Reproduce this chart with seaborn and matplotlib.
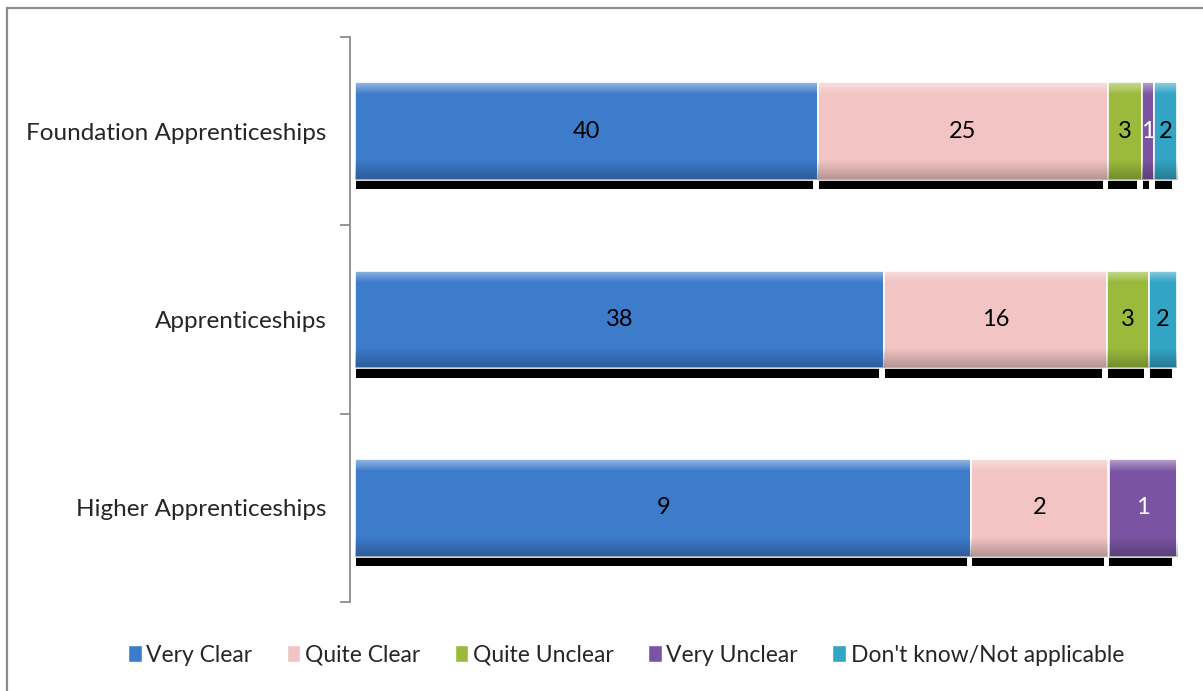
import numpy as np
import pandas as pd
import matplotlib
matplotlib.use("Agg")
import matplotlib.pyplot as plt
import seaborn as sns
from matplotlib.patches import Rectangle, Patch

# Survey responses: how clear each apprenticeship programme is
programmes = ["Foundation Apprenticeships", "Apprenticeships", "Higher Apprenticeships"]
responses = ["Very Clear", "Quite Clear", "Quite Unclear", "Very Unclear",
             "Don't know/Not applicable"]
very_clear = [40, 38, 9]
quite_clear = [25, 16, 2]
quite_unclear = [3, 3, 0]
very_unclear = [1, 0, 1]
dont_know = [2, 2, 0]

colors = ["#3D7BCB", "#F2C4C3", "#9BBA3C", "#7A54A2", "#32A4C4"]
text_colors = ["black", "black", "black", "white", "black"]

sns.set_theme(style="white")
plt.rcParams["font.family"] = ["Lato", "DejaVu Sans"]

counts = pd.DataFrame(
    dict(zip(responses, [very_clear, quite_clear, quite_unclear, very_unclear, dont_know])),
    index=programmes,
)
shares = counts.div(counts.sum(axis=1), axis=0)
starts = shares.cumsum(axis=1) - shares

W, H = 1203, 691
fig = plt.figure(figsize=(W / 100, H / 100), dpi=100)
ax = fig.add_axes([350 / W, 1 - 602 / H, (1177 - 350) / W, (602 - 37) / H])

BAR_H = 0.52
SHADOW_DY = 0.048

# drop shadows under each segment
for resp in responses:
    n0 = len(ax.patches)
    sns.barplot(x=(shares[resp] - 0.007).clip(lower=0).values, y=programmes,
                left=(starts[resp] + 0.001).values, color="black", width=BAR_H,
                orient="h", ax=ax, linewidth=0, saturation=1)
    for p in ax.patches[n0:]:
        p.set_y(p.get_y() + SHADOW_DY)
        p.set_zorder(1)

# main stacked segments
seg_patches = []
for resp, col, tcol in zip(responses, colors, text_colors):
    n0 = len(ax.patches)
    sns.barplot(x=shares[resp].values, y=programmes, left=starts[resp].values,
                color=col, width=BAR_H, orient="h", ax=ax,
                edgecolor="white", linewidth=1.2, saturation=1)
    new = ax.patches[n0:]
    for p in new:
        p.set_zorder(2)
    seg_patches.extend(new)
    cont = ax.containers[-1]
    labels = [str(v) if v > 0 else "" for v in counts[resp]]
    ax.bar_label(cont, labels=labels, label_type="center", fontsize=17,
                 color=tcol, zorder=5)

# glossy bevel on each segment
grad = np.zeros((64, 1, 4))
t = np.linspace(0, 1, 64)
grad[:, 0, :3] = np.where(t[:, None] < 0.5, 1.0, 0.0)
grad[:, 0, 3] = np.where(t < 0.12, 0.45 * (1 - t / 0.12),
                         np.where(t > 0.8, 0.25 * (t - 0.8) / 0.2, 0.0))
for p in seg_patches:
    x0, y0 = p.get_x(), p.get_y()
    w, h = p.get_width(), p.get_height()
    if w <= 0:
        continue
    im = ax.imshow(grad, extent=(x0, x0 + w, y0 + h, y0), origin="upper",
                   aspect="auto", zorder=3, interpolation="bilinear")
    im.set_clip_path(p)

ax.set_xlim(-5 / 822, 1.0)
ax.set_ylim(2.5, -0.5)
ax.set_xticks([])
ax.set_xlabel("")
ax.set_ylabel("")

for side in ["top", "right", "bottom"]:
    ax.spines[side].set_visible(False)
ax.spines["left"].set_color("#8c8c8c")
ax.spines["left"].set_linewidth(1.3)

ax.set_yticks(range(len(programmes)))
ax.set_yticklabels(programmes, fontsize=17.5)
ax.set_yticks([-0.5, 0.5, 1.5, 2.5], minor=True)
ax.tick_params(axis="y", which="major", length=0, pad=17)
ax.tick_params(axis="y", which="minor", length=7, width=1.3, color="#8c8c8c",
               direction="out", left=True)

# legend along the bottom
handles = [Patch(facecolor=c, edgecolor="white") for c in colors]
fig.legend(handles, responses, loc="center", bbox_to_anchor=(626 / W, 1 - 655 / H),
           ncol=5, frameon=False, fontsize=16.5, handlelength=0.6, handleheight=0.7,
           handletextpad=0.2, columnspacing=1.5)

# chart frame
fig.patches.append(Rectangle((7 / W, -0.05), 1.1, 1.05 - 8 / H, transform=fig.transFigure,
                             fill=False, edgecolor="#8c8c8c", linewidth=1.6))

# heading sits mostly above the frame
fig.text(14 / W, 1.0 + 4.8 / H, "Figure 6: Apprenticeships programmes", fontsize=20,
         fontweight="bold", va="baseline", ha="left")

fig.savefig("out.png", dpi=100)
